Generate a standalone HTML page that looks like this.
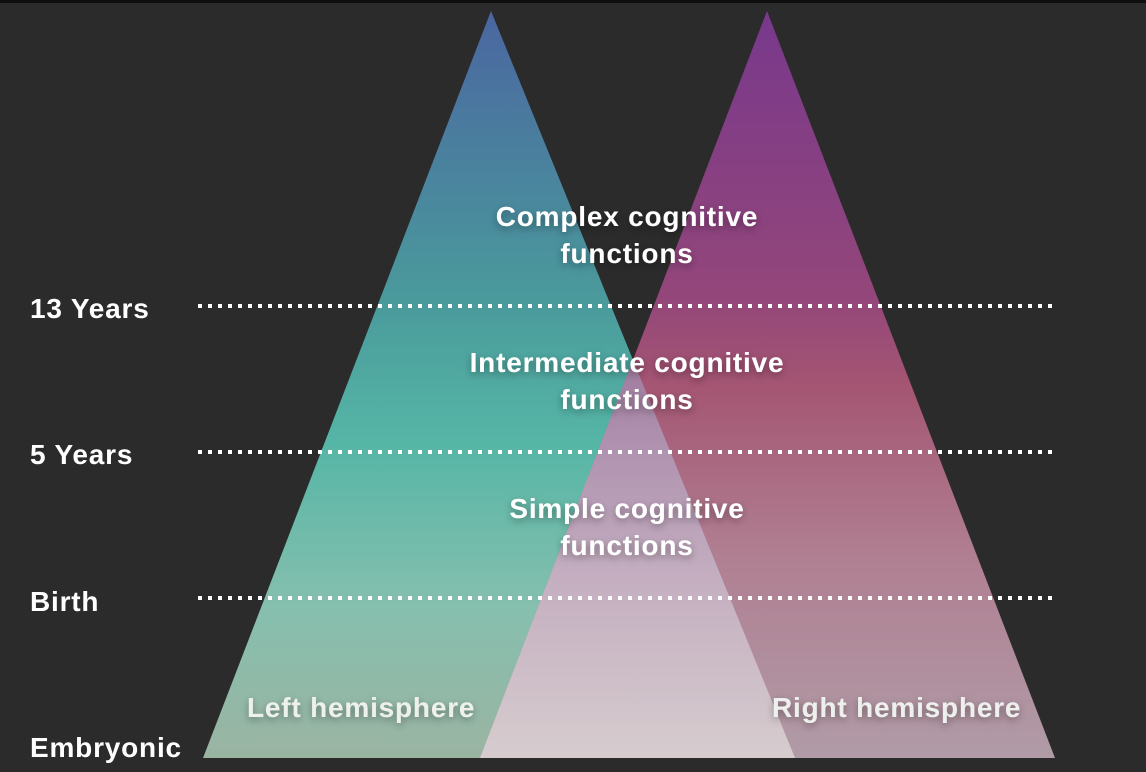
<!DOCTYPE html>
<html><head><style>
html,body{margin:0;padding:0;background:#2b2b2b;}
body{width:1146px;height:772px;overflow:hidden;position:relative;font-family:"Liberation Sans",sans-serif;}
</style></head><body>
<svg width="1146" height="772" style="position:absolute;left:0;top:0">
<defs>
<linearGradient id="gl" x1="0" y1="11" x2="0" y2="758" gradientUnits="userSpaceOnUse">
<stop offset="0" stop-color="#4a66a0"/><stop offset="0.4" stop-color="#4a9c9c"/><stop offset="0.58" stop-color="#56b6a6"/><stop offset="0.8" stop-color="#86bfae"/><stop offset="1" stop-color="#9bb4a2"/></linearGradient>
<linearGradient id="gr" x1="0" y1="11" x2="0" y2="758" gradientUnits="userSpaceOnUse">
<stop offset="0" stop-color="#78388c"/><stop offset="0.38" stop-color="#93467a"/><stop offset="0.5" stop-color="#a45572"/><stop offset="0.73" stop-color="#b07f92"/><stop offset="1" stop-color="#b09ba6"/></linearGradient>
<linearGradient id="go" x1="0" y1="356" x2="0" y2="758" gradientUnits="userSpaceOnUse">
<stop offset="0" stop-color="#a07a9e"/><stop offset="0.2" stop-color="#ae90ae"/><stop offset="0.55" stop-color="#c4aec0"/><stop offset="1" stop-color="#d6ccce"/></linearGradient>
<clipPath id="cl"><polygon points="491,11 203,758 795,758"/></clipPath>
<filter id="sh" x="-10%" y="-30%" width="120%" height="160%"><feDropShadow dx="0" dy="3" stdDeviation="4" flood-color="#000" flood-opacity="0.35"/></filter>
</defs>
<rect x="0" y="0" width="1146" height="3" fill="#0e0e0e"/>
<polygon points="491,11 203,758 795,758" fill="url(#gl)"/>
<polygon points="767,11 480,758 1055,758" fill="url(#gr)"/>
<polygon points="767,11 480,758 1055,758" fill="url(#go)" clip-path="url(#cl)"/>
<g stroke="#fff" stroke-width="4" stroke-dasharray="4 6">
<line x1="198" y1="306" x2="1056" y2="306"/>
<line x1="198" y1="452" x2="1056" y2="452"/>
<line x1="198" y1="598" x2="1056" y2="598"/>
</g>
<g fill="#fff" font-weight="bold" font-size="28" letter-spacing="0.8" font-family="Liberation Sans, sans-serif">
<text x="30" y="318">13 Years</text>
<text x="30" y="464">5 Years</text>
<text x="30" y="611">Birth</text>
<text x="30" y="757">Embryonic</text>
</g>
<g fill="#fff" font-weight="bold" font-size="28" letter-spacing="0.8" text-anchor="middle" filter="url(#sh)">
<text x="627" y="226">Complex cognitive</text>
<text x="627" y="263">functions</text>
<text x="627" y="372">Intermediate cognitive</text>
<text x="627" y="409">functions</text>
<text x="627" y="518">Simple cognitive</text>
<text x="627" y="555">functions</text>
</g>
<g fill="#eef0ee" font-weight="bold" font-size="28" letter-spacing="0.8" filter="url(#sh)">
<text x="247" y="717">Left hemisphere</text>
<text x="772" y="717">Right hemisphere</text>
</g>
</svg>
</body></html>
